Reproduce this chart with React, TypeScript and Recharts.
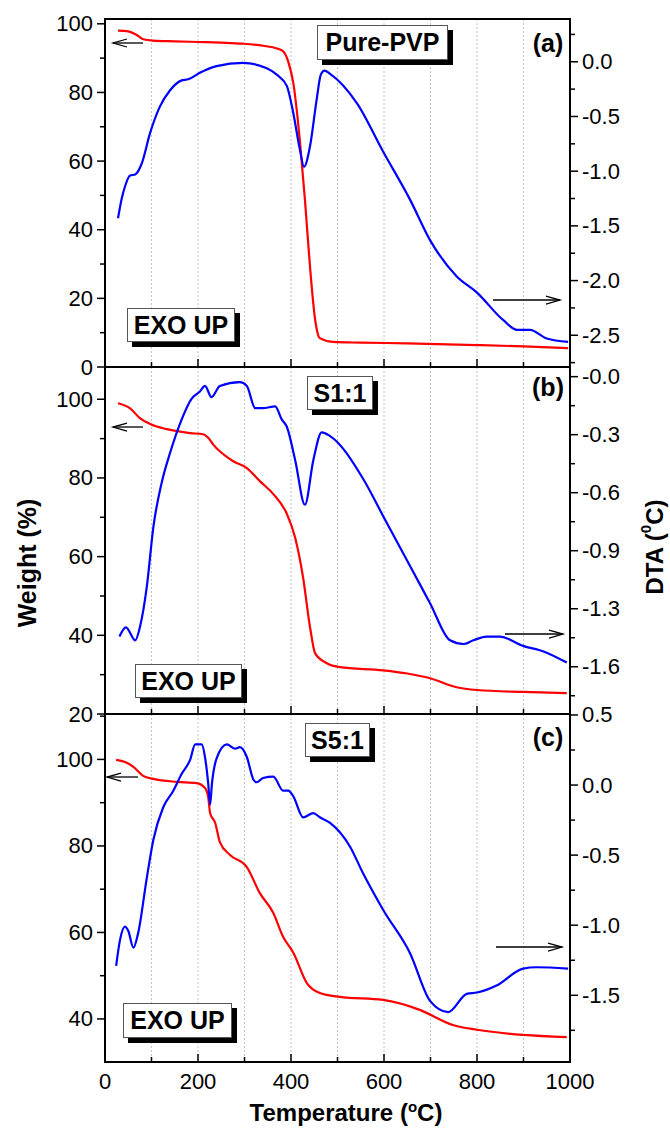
import React from 'react'
import { LineChart, Line, XAxis, YAxis, CartesianGrid, ReferenceArea } from 'recharts'

const FONT = '"Liberation Sans", Arial, Helvetica, sans-serif'

// temperature axis (shared)
const tempTicks = [0, 100, 200, 300, 400, 500, 600, 700, 800, 900, 1000]
const tempMajors = [0, 200, 400, 600, 800, 1000]
const tempLabels = ['0', '200', '400', '600', '800', '1000']

// (a) Pure-PVP
const weightA = [
  { t: 28, w: 98 }, { t: 50, w: 97.8 }, { t: 70, w: 96.6 }, { t: 82, w: 95.5 }, { t: 103, w: 95.1 },
  { t: 150, w: 94.9 }, { t: 200, w: 94.7 }, { t: 250, w: 94.5 }, { t: 297, w: 94.2 }, { t: 340, w: 93.6 },
  { t: 370, w: 92.8 }, { t: 383, w: 92 }, { t: 394, w: 89 }, { t: 405, w: 82.7 }, { t: 419, w: 66 },
  { t: 430, w: 48.7 }, { t: 441, w: 29 }, { t: 452, w: 13.7 }, { t: 462, w: 8.4 }, { t: 490, w: 7.3 },
  { t: 550, w: 7.1 }, { t: 650, w: 6.9 }, { t: 800, w: 6.4 }, { t: 900, w: 6.0 }, { t: 996, w: 5.5 },
]
const dtaA = [
  { t: 28, d: -1.43 }, { t: 36, d: -1.25 }, { t: 43, d: -1.14 }, { t: 54, d: -1.04 }, { t: 65, d: -1.03 },
  { t: 79, d: -0.93 }, { t: 97, d: -0.65 }, { t: 118, d: -0.41 }, { t: 140, d: -0.26 }, { t: 165, d: -0.17 },
  { t: 179, d: -0.16 }, { t: 204, d: -0.1 }, { t: 240, d: -0.04 }, { t: 297, d: -0.01 }, { t: 348, d: -0.06 },
  { t: 370, d: -0.12 }, { t: 391, d: -0.22 }, { t: 405, d: -0.47 }, { t: 419, d: -0.8 }, { t: 428, d: -0.96 },
  { t: 441, d: -0.77 }, { t: 455, d: -0.35 }, { t: 464, d: -0.12 }, { t: 472, d: -0.08 }, { t: 484, d: -0.11 },
  { t: 542, d: -0.38 }, { t: 598, d: -0.82 }, { t: 656, d: -1.26 }, { t: 699, d: -1.63 }, { t: 756, d: -1.96 },
  { t: 800, d: -2.11 }, { t: 856, d: -2.36 }, { t: 886, d: -2.45 }, { t: 914, d: -2.45 }, { t: 950, d: -2.53 },
  { t: 996, d: -2.56 },
]
const weightTicksA = [0, 10, 20, 30, 40, 50, 60, 70, 80, 90, 100]
const weightMajorsA = [0, 20, 40, 60, 80, 100]
const weightLabelsA = ['0', '20', '40', '60', '80', '100']
const dtaTicksA = [0.25, 0, -0.25, -0.5, -0.75, -1, -1.25, -1.5, -1.75, -2, -2.25, -2.5, -2.75]
const dtaMajorsA = [0, -0.5, -1, -1.5, -2, -2.5]
const dtaLabelsA = ['0.0', '-0.5', '-1.0', '-1.5', '-2.0', '-2.5']

// (b) S1:1
const weightB = [
  { t: 28, w: 99.0 }, { t: 54, w: 97.7 }, { t: 75, w: 95.2 }, { t: 97, w: 93.7 }, { t: 133, w: 92.4 },
  { t: 183, w: 91.4 }, { t: 211, w: 91.1 }, { t: 222, w: 90.2 }, { t: 232, w: 88.6 }, { t: 275, w: 84.3 },
  { t: 305, w: 82.5 }, { t: 333, w: 79.2 }, { t: 362, w: 75.9 }, { t: 391, w: 70.9 }, { t: 409, w: 64.8 },
  { t: 426, w: 54.7 }, { t: 441, w: 42 }, { t: 452, w: 35.4 }, { t: 477, w: 32.9 }, { t: 505, w: 31.9 },
  { t: 598, w: 31.1 }, { t: 650, w: 30.3 }, { t: 699, w: 29.1 }, { t: 756, w: 26.8 }, { t: 800, w: 26.1 },
  { t: 899, w: 25.6 }, { t: 993, w: 25.3 },
]
const dtaB = [
  { t: 31, d: -1.4 }, { t: 45, d: -1.35 }, { t: 65, d: -1.42 }, { t: 75, d: -1.35 }, { t: 90, d: -1.13 },
  { t: 104, d: -0.81 }, { t: 122, d: -0.57 }, { t: 140, d: -0.41 }, { t: 165, d: -0.23 }, { t: 186, d: -0.12 },
  { t: 204, d: -0.08 }, { t: 215, d: -0.05 }, { t: 229, d: -0.11 }, { t: 247, d: -0.05 }, { t: 290, d: -0.03 },
  { t: 305, d: -0.05 }, { t: 323, d: -0.17 }, { t: 340, d: -0.17 }, { t: 366, d: -0.16 }, { t: 380, d: -0.23 },
  { t: 391, d: -0.27 }, { t: 409, d: -0.45 }, { t: 430, d: -0.69 }, { t: 448, d: -0.45 }, { t: 466, d: -0.3 },
  { t: 484, d: -0.32 }, { t: 555, d: -0.55 }, { t: 598, d: -0.75 }, { t: 656, d: -1.02 }, { t: 699, d: -1.22 },
  { t: 742, d: -1.42 }, { t: 771, d: -1.44 }, { t: 792, d: -1.42 }, { t: 821, d: -1.4 }, { t: 849, d: -1.4 },
  { t: 899, d: -1.45 }, { t: 943, d: -1.48 }, { t: 993, d: -1.54 },
]
const weightTicksB = [20, 30, 40, 50, 60, 70, 80, 90, 100]
const weightMajorsB = [20, 40, 60, 80, 100]
const weightLabelsB = ['20', '40', '60', '80', '100']
const dtaTicksB = [0, -0.15625, -0.3125, -0.46875, -0.625, -0.78125, -0.9375, -1.09375, -1.25, -1.40625, -1.5625, -1.71875]
const dtaMajorsB = [0, -0.3125, -0.625, -0.9375, -1.25, -1.5625]
const dtaLabelsB = ['-0.0', '-0.3', '-0.6', '-0.9', '-1.3', '-1.6']

// (c) S5:1
const weightC = [
  { t: 24, w: 99.9 }, { t: 43, w: 99.4 }, { t: 61, w: 98.3 }, { t: 82, w: 96.2 }, { t: 104, w: 95.5 },
  { t: 154, w: 94.8 }, { t: 197, w: 94.5 }, { t: 215, w: 93.4 }, { t: 222, w: 91.3 }, { t: 226, w: 87.6 },
  { t: 237, w: 85.3 }, { t: 247, w: 80.9 }, { t: 269, w: 77.9 }, { t: 305, w: 75.1 }, { t: 333, w: 69.1 },
  { t: 362, w: 64.5 }, { t: 383, w: 59 }, { t: 405, w: 55.3 }, { t: 434, w: 48.3 }, { t: 462, w: 46 },
  { t: 505, w: 45.1 }, { t: 598, w: 44.4 }, { t: 677, w: 42.1 }, { t: 748, w: 38.6 }, { t: 800, w: 37.5 },
  { t: 899, w: 36.3 }, { t: 993, w: 35.8 },
]
const dtaC = [
  { t: 24, d: -1.29 }, { t: 32, d: -1.11 }, { t: 43, d: -1.01 }, { t: 50, d: -1.04 }, { t: 61, d: -1.16 },
  { t: 71, d: -1.06 }, { t: 90, d: -0.66 }, { t: 104, d: -0.39 }, { t: 125, d: -0.16 }, { t: 147, d: -0.04 },
  { t: 165, d: 0.08 }, { t: 183, d: 0.18 }, { t: 194, d: 0.29 }, { t: 208, d: 0.29 }, { t: 215, d: 0.2 },
  { t: 222, d: 0.01 }, { t: 226, d: -0.14 }, { t: 230, d: 0.01 }, { t: 240, d: 0.19 }, { t: 262, d: 0.29 },
  { t: 280, d: 0.26 }, { t: 290, d: 0.27 }, { t: 305, d: 0.2 }, { t: 319, d: 0.04 }, { t: 326, d: 0.02 },
  { t: 340, d: 0.05 }, { t: 362, d: 0.06 }, { t: 383, d: -0.04 }, { t: 394, d: -0.04 }, { t: 405, d: -0.08 },
  { t: 426, d: -0.23 }, { t: 448, d: -0.2 }, { t: 462, d: -0.23 }, { t: 484, d: -0.27 }, { t: 527, d: -0.44 },
  { t: 555, d: -0.63 }, { t: 598, d: -0.89 }, { t: 656, d: -1.2 }, { t: 699, d: -1.54 }, { t: 738, d: -1.62 },
  { t: 778, d: -1.49 }, { t: 800, d: -1.48 }, { t: 842, d: -1.43 }, { t: 899, d: -1.31 }, { t: 928, d: -1.3 },
  { t: 996, d: -1.31 },
]
const weightTicksC = [40, 50, 60, 70, 80, 90, 100, 110]
const weightMajorsC = [40, 60, 80, 100]
const weightLabelsC = ['40', '60', '80', '100']
const dtaTicksC = [0.5, 0.25, 0, -0.25, -0.5, -0.75, -1, -1.25, -1.5, -1.75]
const dtaMajorsC = [0.5, 0, -0.5, -1, -1.5]
const dtaLabelsC = ['0.5', '0.0', '-0.5', '-1.0', '-1.5']

function AxisTick(props: any) {
  const { x, y, payload, side, majors, labels, showLabels } = props
  const i = majors.indexOf(payload.value)
  const major = i >= 0
  const len = major ? 8 : 5
  const label = major && showLabels ? labels[i] : null
  const txt = { fontFamily: FONT, fontSize: 22, fill: '#000' }
  if (side === 'left') {
    return (
      <g>
        <line x1={x} y1={y} x2={x - len} y2={y} stroke="#000" strokeWidth={1.5} />
        {label && <text x={x - 12} y={y} textAnchor="end" dominantBaseline="central" {...txt}>{label}</text>}
      </g>
    )
  }
  if (side === 'right') {
    return (
      <g>
        <line x1={x} y1={y} x2={x + len} y2={y} stroke="#000" strokeWidth={1.5} />
        {label && <text x={x + 12} y={y} textAnchor="start" dominantBaseline="central" {...txt}>{label}</text>}
      </g>
    )
  }
  // bottom: ticks point inward
  return (
    <g>
      <line x1={x} y1={y} x2={x} y2={y - len} stroke="#000" strokeWidth={1.5} />
      {label && <text x={x} y={y + 19} textAnchor="middle" dominantBaseline="central" {...txt}>{label}</text>}
    </g>
  )
}

type PanelProps = {
  top: number
  height: number
  marginTop: number
  xHeight: number
  showX: boolean
  weight: Array<{ t: number; w: number }>
  dta: Array<{ t: number; d: number }>
  wDomain: [number, number]
  dDomain: [number, number]
  wTicks: number[]
  wMajors: number[]
  wLabels: string[]
  dTicks: number[]
  dMajors: number[]
  dLabels: string[]
}

function Panel(p: PanelProps) {
  return (
    <div style={{ position: 'absolute', left: 0, top: p.top }}>
      <LineChart width={670} height={p.height} margin={{ top: p.marginTop, right: 8, bottom: 0, left: 8 }}>
        <CartesianGrid vertical horizontal={false} stroke="#c4c4c4" strokeDasharray="2 2" yAxisId="w" />
        <XAxis
          dataKey="t"
          type="number"
          domain={[0, 1000]}
          ticks={tempTicks}
          interval={0}
          allowDataOverflow
          height={p.xHeight}
          axisLine={{ stroke: '#000', strokeWidth: 2 }}
          tickLine={false}
          tickSize={0}
          tickMargin={0}
          tick={<AxisTick side="bottom" majors={tempMajors} labels={tempLabels} showLabels={p.showX} />}
        />
        <YAxis
          yAxisId="w"
          orientation="left"
          type="number"
          domain={p.wDomain}
          ticks={p.wTicks}
          interval={0}
          allowDataOverflow
          width={97}
          axisLine={{ stroke: '#000', strokeWidth: 2 }}
          tickLine={false}
          tickSize={0}
          tickMargin={0}
          tick={<AxisTick side="left" majors={p.wMajors} labels={p.wLabels} showLabels />}
        />
        <YAxis
          yAxisId="d"
          orientation="right"
          type="number"
          domain={p.dDomain}
          ticks={p.dTicks}
          interval={0}
          allowDataOverflow
          width={92}
          axisLine={{ stroke: '#000', strokeWidth: 2 }}
          tickLine={false}
          tickSize={0}
          tickMargin={0}
          tick={<AxisTick side="right" majors={p.dMajors} labels={p.dLabels} showLabels />}
        />
        <ReferenceArea
          yAxisId="w"
          x1={0}
          x2={1000}
          y1={p.wDomain[0]}
          y2={p.wDomain[1]}
          fill="none"
          stroke="#000"
          strokeWidth={2}
          ifOverflow="visible"
        />
        <Line
          yAxisId="w"
          data={p.weight}
          dataKey="w"
          type="monotone"
          stroke="#ff0000"
          strokeWidth={2.2}
          dot={false}
          isAnimationActive={false}
        />
        <Line
          yAxisId="d"
          data={p.dta}
          dataKey="d"
          type="monotone"
          stroke="#0000ff"
          strokeWidth={2.2}
          dot={false}
          isAnimationActive={false}
        />
      </LineChart>
    </div>
  )
}

function Tag({ left, top, width, height, text }: { left: number; top: number; width: number; height: number; text: string }) {
  return (
    <div
      style={{
        position: 'absolute',
        left,
        top,
        width,
        height,
        boxSizing: 'border-box',
        border: '1px solid #555',
        background: '#fff',
        boxShadow: '5px 5px 0 #000',
        display: 'flex',
        alignItems: 'center',
        justifyContent: 'center',
        fontWeight: 'bold',
        fontSize: 25,
        lineHeight: 1,
      }}
    >
      {text}
    </div>
  )
}

function Letter({ cx, cy, text }: { cx: number; cy: number; text: string }) {
  return (
    <div style={{ position: 'absolute', left: cx - 30, top: cy - 15, width: 60, height: 30, textAlign: 'center', fontWeight: 'bold', fontSize: 25, lineHeight: '30px' }}>
      {text}
    </div>
  )
}

function Arrow({ x1, x2, y }: { x1: number; x2: number; y: number }) {
  const dir = x2 > x1 ? 1 : -1
  return (
    <g stroke="#000" strokeWidth={1.3} fill="none">
      <line x1={x1} y1={y} x2={x2} y2={y} />
      <polyline points={`${x2 - dir * 14},${y - 4} ${x2},${y} ${x2 - dir * 14},${y + 4}`} />
    </g>
  )
}

export default function App() {
  return (
    <div style={{ position: 'absolute', left: 0, top: 0, width: 670, height: 1129, background: '#fff', fontFamily: FONT }}>
      <Panel
        top={0} height={397} marginTop={19} xHeight={30} showX={false}
        weight={weightA} dta={dtaA}
        wDomain={[0, 101.4]} dDomain={[-2.79, 0.391]}
        wTicks={weightTicksA} wMajors={weightMajorsA} wLabels={weightLabelsA}
        dTicks={dtaTicksA} dMajors={dtaMajorsA} dLabels={dtaLabelsA}
      />
      <Panel
        top={337} height={407} marginTop={30} xHeight={30} showX={false}
        weight={weightB} dta={dtaB}
        wDomain={[20, 108.2]} dDomain={[-1.817, 0.052]}
        wTicks={weightTicksB} wMajors={weightMajorsB} wLabels={weightLabelsB}
        dTicks={dtaTicksB} dMajors={dtaMajorsB} dLabels={dtaLabelsB}
      />
      <Panel
        top={684} height={445} marginTop={30} xHeight={67} showX
        weight={weightC} dta={dtaC}
        wDomain={[30.05, 110.5]} dDomain={[-1.976, 0.507]}
        wTicks={weightTicksC} wMajors={weightMajorsC} wLabels={weightLabelsC}
        dTicks={dtaTicksC} dMajors={dtaMajorsC} dLabels={dtaLabelsC}
      />

      <Tag left={317} top={25} width={131} height={35} text="Pure-PVP" />
      <Tag left={127} top={308} width={108} height={34} text="EXO UP" />
      <Tag left={307} top={376} width={66} height={34} text="S1:1" />
      <Tag left={135} top={664} width={107} height={34} text="EXO UP" />
      <Tag left={305} top={723} width={65} height={34} text="S5:1" />
      <Tag left={123} top={1003} width={109} height={35} text="EXO UP" />

      <Letter cx={548} cy={43} text="(a)" />
      <Letter cx={548} cy={387} text="(b)" />
      <Letter cx={548} cy={737} text="(c)" />

      <svg width={670} height={1129} style={{ position: 'absolute', left: 0, top: 0, pointerEvents: 'none' }}>
        <Arrow x1={143} x2={113} y={43} />
        <Arrow x1={493} x2={560} y={300} />
        <Arrow x1={143} x2={113} y={427} />
        <Arrow x1={505} x2={563} y={634} />
        <Arrow x1={138} x2={107} y={777} />
        <Arrow x1={496} x2={562} y={947} />
        <text x={27} y={563} transform="rotate(-90 27 563)" textAnchor="middle" dominantBaseline="central" fontFamily={FONT} fontWeight="bold" fontSize={25}>
          Weight (%)
        </text>
        <text x={654} y={547} transform="rotate(-90 654 547)" textAnchor="middle" dominantBaseline="central" fontFamily={FONT} fontWeight="bold" fontSize={24}>
          DTA (<tspan fontSize={15} dy={-9}>0</tspan><tspan dy={9}>C)</tspan>
        </text>
        <text x={346} y={1121} textAnchor="middle" fontFamily={FONT} fontWeight="bold" fontSize={24}>
          Temperature (<tspan fontSize={15} dy={-9}>o</tspan><tspan dy={9}>C)</tspan>
        </text>
      </svg>
    </div>
  )
}
